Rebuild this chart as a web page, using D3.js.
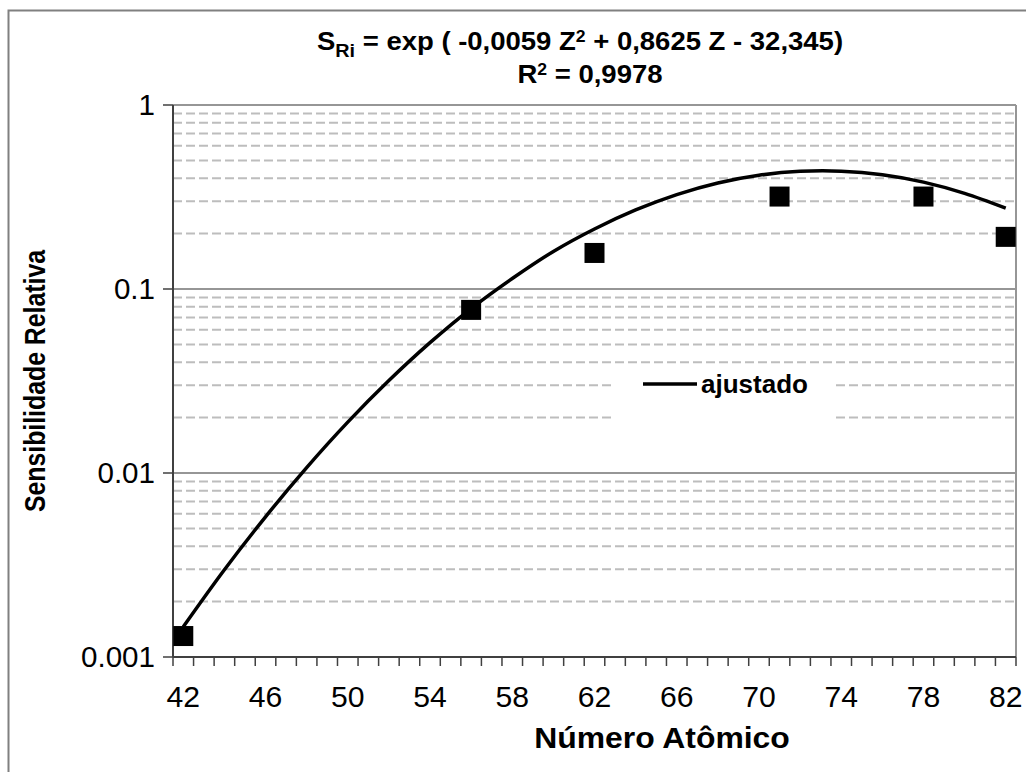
<!DOCTYPE html>
<html lang="pt">
<head>
  <meta charset="UTF-8">
  <title>Sensibilidade Relativa</title>
  <script src="https://d3js.org/d3.v7.min.js"></script>
  <style>
    html, body {
      margin: 0;
      padding: 0;
      background: #fff;
      overflow: hidden;
    }
    svg {
      display: block;
      font-family: "Liberation Sans", Arial, sans-serif;
    }
  </style>
</head>
<body>
<svg width="1026" height="772"></svg>

<script>
  // measured points
  const pointZ = [42, 56, 62, 71, 78, 82];
  const pointS = [0.0013, 0.077, 0.157, 0.318, 0.318, 0.192];

  // fitted curve ("ajustado"), every 2 units of Z
  const fitZ = [42, 44, 46, 48, 50, 52, 54, 56, 58, 60, 62, 64, 66, 68, 70, 72, 74, 76, 78, 80, 82];
  const fitS = [0.00146, 0.00298, 0.00578, 0.0107, 0.0189, 0.0318, 0.0511, 0.0783, 0.114, 0.160,
                0.212, 0.269, 0.326, 0.377, 0.415, 0.436, 0.437, 0.418, 0.381, 0.331, 0.275];

  const xLabels = [42, 46, 50, 54, 58, 62, 66, 70, 74, 78, 82];
  const yMajor = [0.001, 0.01, 0.1, 1];
  const yLabels = ["0.001", "0.01", "0.1", "1"];

  const svg = d3.select("svg");
  const plotLeft = 173, plotRight = 1016, plotTop = 105, plotBottom = 657;
  const stretch = 1.1; // the original picture is a bit wider than tall

  const x = d3.scaleLinear().domain([41.5, 82.5]).range([plotLeft, plotRight]);
  const y = d3.scaleLog().domain([0.001, 1]).range([plotBottom, plotTop]);

  // chart frame
  svg.append("rect")
          .attr("x", 8.5).attr("y", 10.5)
          .attr("width", 1030).attr("height", 780)
          .attr("fill", "none")
          .attr("stroke", "#808080")
          .attr("stroke-width", 2);

  // minor gridlines (dashed)
  const minor = [];
  [0.001, 0.01, 0.1].forEach(d => {
    for (let k = 2; k <= 9; k++) minor.push(d * k);
  });
  svg.append("g")
          .selectAll("line")
          .data(minor)
          .join("line")
          .attr("x1", plotLeft).attr("x2", plotRight)
          .attr("y1", d => y(d)).attr("y2", d => y(d))
          .attr("stroke", "#bdbdbd")
          .attr("stroke-width", 2)
          .attr("stroke-dasharray", "9,4");

  // major gridlines
  svg.append("g")
          .selectAll("line")
          .data([0.01, 0.1, 1])
          .join("line")
          .attr("x1", plotLeft).attr("x2", plotRight)
          .attr("y1", d => y(d)).attr("y2", d => y(d))
          .attr("stroke", "#969696")
          .attr("stroke-width", 2);

  // right border of plot
  svg.append("line")
          .attr("x1", plotRight).attr("x2", plotRight)
          .attr("y1", plotTop).attr("y2", plotBottom)
          .attr("stroke", "#969696")
          .attr("stroke-width", 2);

  // x axis: ticks between categories, labels every 4
  const xTicks = d3.range(41.5, 83, 1);
  const xAxis = svg.append("g").attr("transform", `translate(0,${plotBottom})`);
  xAxis.append("line")
          .attr("x1", plotLeft).attr("x2", plotRight)
          .attr("stroke", "#404040").attr("stroke-width", 2);
  xAxis.selectAll("line.tick")
          .data(xTicks)
          .join("line")
          .attr("class", "tick")
          .attr("x1", d => x(d)).attr("x2", d => x(d))
          .attr("y1", 0).attr("y2", 9)
          .attr("stroke", "#404040").attr("stroke-width", 1.5);
  xAxis.selectAll("text")
          .data(xLabels)
          .join("text")
          .attr("transform", d => `translate(${x(d)},50) scale(1.04,1)`)
          .attr("text-anchor", "middle")
          .attr("font-size", "29px")
          .text(d => d);

  // y axis
  const yAxis = svg.append("g").attr("transform", `translate(${plotLeft},0)`);
  yAxis.append("line")
          .attr("y1", plotTop).attr("y2", plotBottom)
          .attr("stroke", "#404040").attr("stroke-width", 2);
  yAxis.selectAll("line.tick")
          .data(yMajor)
          .join("line")
          .attr("class", "tick")
          .attr("x1", -10).attr("x2", 0)
          .attr("y1", d => y(d)).attr("y2", d => y(d))
          .attr("stroke", "#404040").attr("stroke-width", 1.5);
  yAxis.selectAll("text")
          .data(yMajor)
          .join("text")
          .attr("transform", d => `translate(-18,${y(d)}) scale(1.02,1)`)
          .attr("dy", "0.35em")
          .attr("text-anchor", "end")
          .attr("font-size", "29px")
          .text((d, i) => yLabels[i]);

  // fitted curve
  const line = d3.line()
          .x((d, i) => x(fitZ[i]))
          .y(d => y(d))
          .curve(d3.curveCatmullRom);
  svg.append("path")
          .datum(fitS)
          .attr("d", line)
          .attr("fill", "none")
          .attr("stroke", "#000")
          .attr("stroke-width", 3.5);

  // measured squares
  svg.append("g")
          .selectAll("rect")
          .data(pointS)
          .join("rect")
          .attr("x", (d, i) => x(pointZ[i]) - 10)
          .attr("y", d => y(d) - 10)
          .attr("width", 20).attr("height", 20)
          .attr("fill", "#000");

  // legend
  const legend = svg.append("g");
  legend.append("rect")
          .attr("x", 611).attr("y", 369)
          .attr("width", 222).attr("height", 62)
          .attr("fill", "#fff");
  legend.append("line")
          .attr("x1", 643).attr("x2", 697)
          .attr("y1", 384).attr("y2", 384)
          .attr("stroke", "#000").attr("stroke-width", 3.5);
  legend.append("text")
          .attr("transform", `translate(701,393) scale(1.04,1)`)
          .attr("font-size", "25px")
          .attr("font-weight", "bold")
          .text("ajustado");

  // title
  const title = svg.append("text")
          .attr("transform", `translate(580,50) scale(${stretch},1)`)
          .attr("text-anchor", "middle")
          .attr("font-size", "25px")
          .attr("font-weight", "bold");
  title.append("tspan").text("S");
  title.append("tspan").attr("font-size", "18px").attr("dy", 7).text("Ri");
  title.append("tspan").attr("dy", -7).text(" = exp ( -0,0059 Z");
  title.append("tspan").attr("font-size", "16px").attr("dy", -8).text("2");
  title.append("tspan").attr("dy", 8).text(" + 0,8625 Z - 32,345)");

  const r2 = svg.append("text")
          .attr("transform", `translate(590,83) scale(${stretch},1)`)
          .attr("text-anchor", "middle")
          .attr("font-size", "25px")
          .attr("font-weight", "bold");
  r2.append("tspan").text("R");
  r2.append("tspan").attr("font-size", "16px").attr("dy", -8).text("2");
  r2.append("tspan").attr("dy", 8).text(" = 0,9978");

  // axis titles
  svg.append("text")
          .attr("transform", `translate(662,748) scale(${stretch},1)`)
          .attr("text-anchor", "middle")
          .attr("font-size", "29px")
          .attr("font-weight", "bold")
          .text("Número Atômico");

  svg.append("text")
          .attr("transform", `translate(45,${(plotTop + plotBottom) / 2}) rotate(-90) scale(0.92,1.1)`)
          .attr("text-anchor", "middle")
          .attr("font-size", "27px")
          .attr("font-weight", "bold")
          .text("Sensibilidade Relativa");
</script>
</body>
</html>
